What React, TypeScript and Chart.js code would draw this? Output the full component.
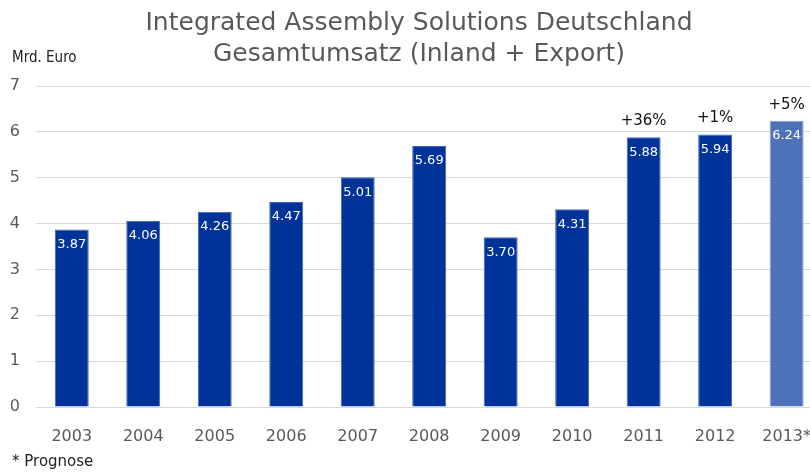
import React, { useEffect, useRef } from "react";
import { Chart, registerables } from "chart.js";

Chart.register(...registerables);

const years = ["2003", "2004", "2005", "2006", "2007", "2008", "2009", "2010", "2011", "2012", "2013*"];
const revenue = [3.87, 4.06, 4.26, 4.47, 5.01, 5.69, 3.70, 4.31, 5.88, 5.94, 6.24];
const growthLabels = ["", "", "", "", "", "", "", "", "+36%", "+1%", "+5%"];
const titleLines = ["Integrated Assembly Solutions Deutschland", "Gesamtumsatz (Inland + Export)"];
const unitLabel = "Mrd. Euro";
const footnote = "* Prognose";

const DARK = "#003399";
const LIGHT = "#4d72b9";
const TEXT = "#595959";
const FONT = "'DejaVu Sans', Verdana, sans-serif";

const textPlugin = {
  id: "textPlugin",
  afterDatasetsDraw(chart: any) {
    const ctx = chart.ctx;
    const meta = chart.getDatasetMeta(0);
    ctx.save();
    ctx.textAlign = "center";
    ctx.textBaseline = "middle";
    meta.data.forEach((bar: any, i: number) => {
      ctx.fillStyle = "#ffffff";
      ctx.font = `13px ${FONT}`;
      ctx.fillText(revenue[i].toFixed(2), bar.x, bar.y + 15);
      if (growthLabels[i]) {
        ctx.fillStyle = "#111111";
        ctx.font = `15px ${FONT}`;
        ctx.fillText(growthLabels[i], bar.x, bar.y - 16);
      }
    });
    // title
    ctx.fillStyle = TEXT;
    ctx.font = `25px ${FONT}`;
    ctx.fillText(titleLines[0], 419, 23);
    ctx.fillText(titleLines[1], 419, 54);
    // unit + footnote
    ctx.textAlign = "left";
    ctx.fillStyle = "#222222";
    ctx.font = `15px 'Liberation Sans Narrow', 'DejaVu Sans Condensed', sans-serif`;
    ctx.fillText(unitLabel, 12, 58);
    ctx.font = `15px ${FONT}`;
    ctx.fillText(footnote, 12, 462);
    ctx.restore();
  },
};

export default function App() {
  const ref = useRef<HTMLCanvasElement | null>(null);
  useEffect(() => {
    if (!ref.current) return;
    const chart = new Chart(ref.current, {
      type: "bar",
      data: {
        labels: years,
        datasets: [
          {
            data: revenue,
            backgroundColor: years.map((y) => (y.endsWith("*") ? LIGHT : DARK)),
            borderColor: years.map((y) => (y.endsWith("*") ? "#7f9bd0" : "#3d66b8")),
            borderWidth: { top: 1, left: 1, right: 1, bottom: 0 },
            categoryPercentage: 1,
            barPercentage: 0.475,
          },
        ],
      },
      options: {
        responsive: false,
        animation: false,
        layout: { padding: { top: 86, left: 0, right: 0, bottom: 0 } },
        plugins: { legend: { display: false }, tooltip: { enabled: false }, title: { display: false } },
        scales: {
          x: {
            grid: { display: false },
            border: { display: false },
            ticks: { color: TEXT, font: { size: 16, family: FONT }, padding: 12, maxRotation: 0 },
            afterFit: (s: any) => {
              s.height = 65;
            },
          },
          y: {
            min: 0,
            max: 7,
            grid: { color: "#d9d9d9", drawTicks: false },
            border: { display: false },
            ticks: { stepSize: 1, color: TEXT, font: { size: 16, family: FONT }, padding: 16 },
            afterFit: (s: any) => {
              s.width = 36;
            },
          },
        },
      },
      plugins: [textPlugin],
    });
    return () => chart.destroy();
  }, []);
  return (
    <div style={{ position: "absolute", left: 0, top: 0, width: 810, height: 472, overflow: "hidden", background: "#fff" }}>
      <canvas ref={ref} width={823} height={472} style={{ display: "block" }} />
    </div>
  );
}
